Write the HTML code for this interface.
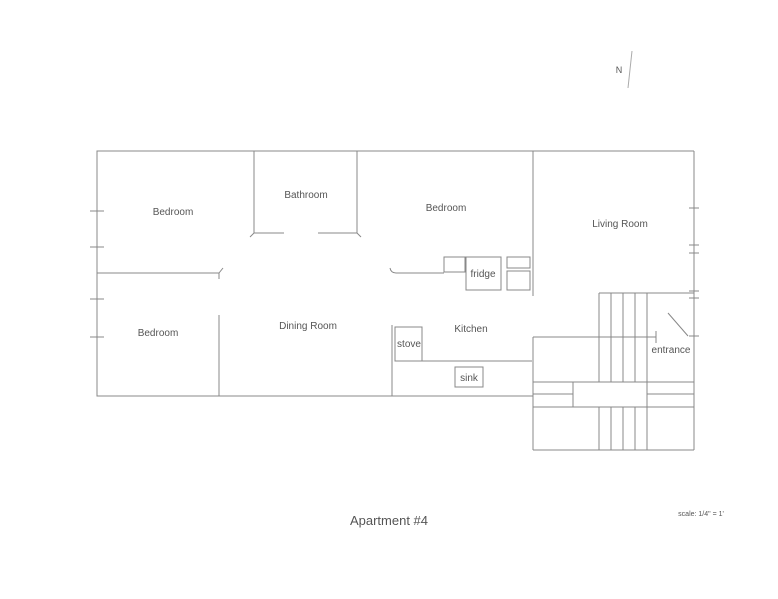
<!DOCTYPE html>
<html><head><meta charset="utf-8"><style>
html,body{margin:0;padding:0;background:#fff;}
svg{display:block;}
text{font-family:"Liberation Sans",sans-serif;fill:#555;}
</style></head><body>
<svg width="778" height="599" viewBox="0 0 778 599" xmlns="http://www.w3.org/2000/svg">
<g stroke="#888" stroke-width="1" fill="none">
<!-- outer -->
<polyline points="533,151 97,151 97,396 533,396"/>
<line x1="533" y1="151" x2="694" y2="151"/>
<line x1="533" y1="151" x2="533" y2="296"/>
<line x1="694" y1="151" x2="694" y2="450"/>
<line x1="533" y1="337" x2="533" y2="450"/>
<line x1="533" y1="450" x2="694" y2="450"/>
<!-- bathroom -->
<line x1="254" y1="151" x2="254" y2="233"/>
<line x1="357" y1="151" x2="357" y2="233"/>
<line x1="254" y1="233" x2="284" y2="233"/>
<line x1="318" y1="233" x2="357" y2="233"/>
<line x1="254" y1="233" x2="250" y2="237"/>
<line x1="357" y1="233" x2="361" y2="237"/>
<!-- left wall -->
<line x1="97" y1="273" x2="219" y2="273"/>
<line x1="219" y1="273" x2="223" y2="268"/>
<line x1="219" y1="273" x2="219" y2="279"/>
<line x1="219" y1="315" x2="219" y2="396"/>
<!-- right bedroom wall -->
<path d="M390,268 Q391,273 396,273 L444,273"/>
<rect x="444" y="257" width="21" height="15"/>
<rect x="466" y="257" width="35" height="33"/>
<rect x="507" y="257" width="23" height="11"/>
<rect x="507" y="271" width="23" height="19"/>
<!-- kitchen -->
<line x1="392" y1="325" x2="392" y2="396"/>
<line x1="395" y1="361" x2="532" y2="361"/>
<rect x="395" y="327" width="27" height="34"/>
<rect x="455" y="367" width="28" height="20"/>
<!-- entrance wall -->
<line x1="533" y1="337" x2="656" y2="337"/>
<line x1="656" y1="331" x2="656" y2="343"/>
<line x1="668" y1="313" x2="688" y2="336"/>
<!-- stairs -->
<line x1="599" y1="293" x2="694" y2="293"/>
<line x1="599" y1="293" x2="599" y2="382"/>
<line x1="611" y1="293" x2="611" y2="382"/>
<line x1="623" y1="293" x2="623" y2="382"/>
<line x1="635" y1="293" x2="635" y2="382"/>
<line x1="647" y1="293" x2="647" y2="382"/>
<line x1="533" y1="382" x2="694" y2="382"/>
<line x1="533" y1="407" x2="694" y2="407"/>
<line x1="573" y1="382" x2="573" y2="407"/>
<line x1="647" y1="382" x2="647" y2="407"/>
<line x1="533" y1="394" x2="573" y2="394"/>
<line x1="647" y1="394" x2="694" y2="394"/>
<line x1="599" y1="407" x2="599" y2="450"/>
<line x1="611" y1="407" x2="611" y2="450"/>
<line x1="623" y1="407" x2="623" y2="450"/>
<line x1="635" y1="407" x2="635" y2="450"/>
<line x1="647" y1="407" x2="647" y2="450"/>
<!-- ticks left -->
<line x1="90" y1="211" x2="104" y2="211"/>
<line x1="90" y1="247" x2="104" y2="247"/>
<line x1="90" y1="299" x2="104" y2="299"/>
<line x1="90" y1="337" x2="104" y2="337"/>
<!-- ticks right -->
<line x1="689" y1="208" x2="699" y2="208"/>
<line x1="689" y1="245" x2="699" y2="245"/>
<line x1="689" y1="253" x2="699" y2="253"/>
<line x1="689" y1="291" x2="699" y2="291"/>
<line x1="689" y1="298" x2="699" y2="298"/>
<line x1="689" y1="336" x2="699" y2="336"/>
<!-- north -->
<line x1="632" y1="51" x2="628" y2="88" stroke="#aaa"/>
</g>
<g font-size="10" text-anchor="middle">
<text x="173" y="215">Bedroom</text>
<text x="306" y="198">Bathroom</text>
<text x="446" y="211">Bedroom</text>
<text x="620" y="227">Living Room</text>
<text x="158" y="336">Bedroom</text>
<text x="308" y="329">Dining Room</text>
<text x="471" y="332">Kitchen</text>
<text x="483" y="277">fridge</text>
<text x="409" y="347">stove</text>
<text x="469" y="381">sink</text>
<text x="671" y="353">entrance</text>
<text x="619" y="73" font-size="9">N</text>
<text x="389" y="525" font-size="13">Apartment #4</text>
<text x="701" y="516" font-size="7">scale: 1/4" = 1'</text>
</g>
</svg>
</body></html>
